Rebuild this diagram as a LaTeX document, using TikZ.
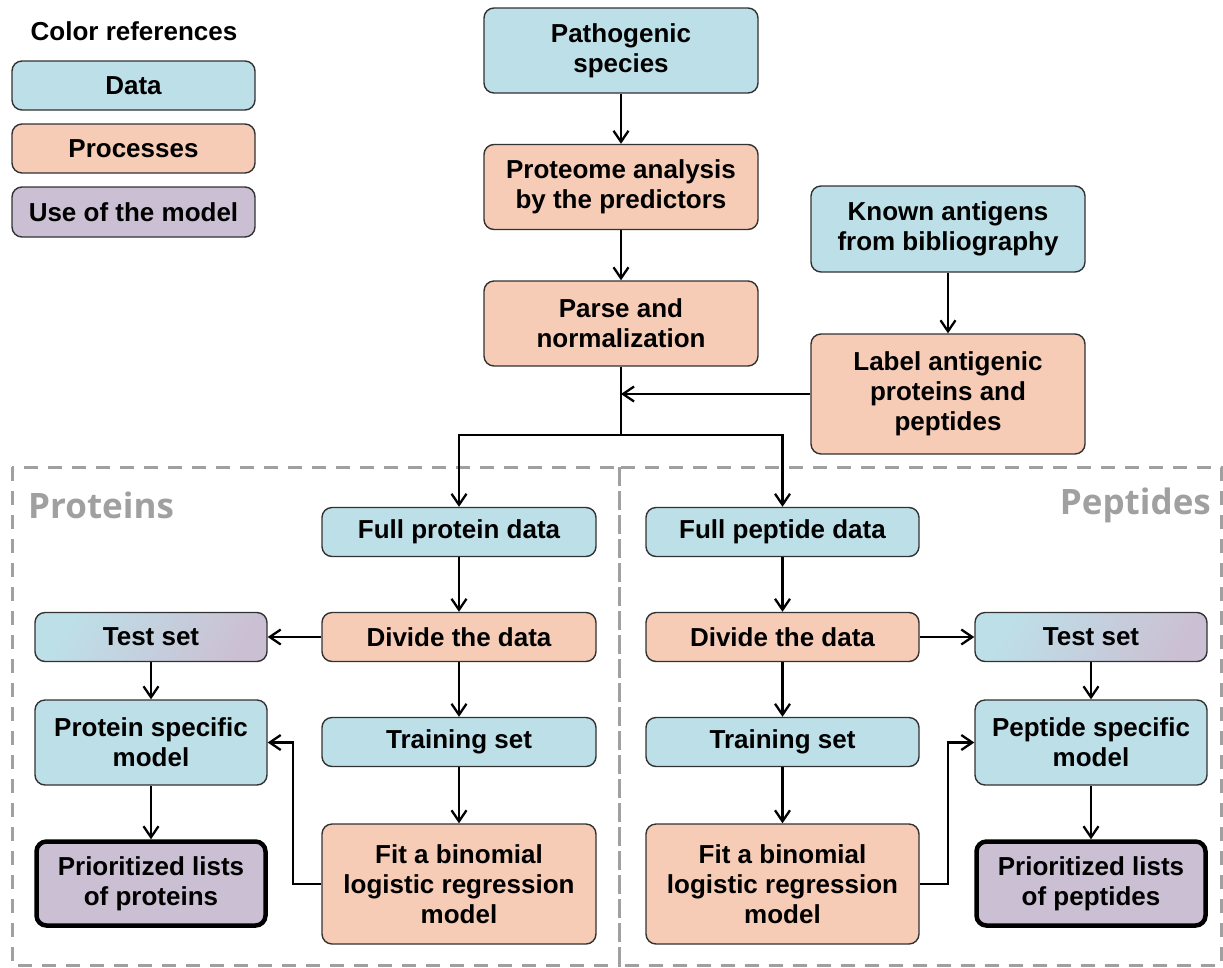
\documentclass[tikz,border=0pt]{standalone}
\usepackage{fontspec}
\setmainfont{Liberation Sans}
\newfontfamily\panelfont{Open Sans}
\usepackage{xcolor}
\usepackage{tikz}
\usetikzlibrary{arrows.meta, positioning, calc}

\definecolor{datafill}{RGB}{189,224,232}
\definecolor{procfill}{RGB}{246,204,183}
\definecolor{usefill}{RGB}{203,192,211}
\definecolor{edgegray}{RGB}{50,50,50}
\definecolor{panelgray}{RGB}{160,160,160}

\begin{document}
\begin{tikzpicture}[
    x=1pt, y=-1pt,
    box/.style={draw=edgegray, line width=1.4pt, rounded corners=10pt, align=center,
        inner sep=0pt, font=\bfseries\fontsize{26}{30}\selectfont, text=black},
    databox/.style={box, fill=datafill},
    procbox/.style={box, fill=procfill},
    usebox/.style={box, fill=usefill, draw=black, line width=4.5pt},
    testbox/.style={box, shading=axis, left color=datafill, right color=usefill, shading angle=60},
    arr/.style={-{Straight Barb[length=11pt, width=15pt]}, line width=2.3pt},
    conn/.style={line width=2.3pt},
    panel/.style={draw=panelgray, line width=3pt, dash pattern=on 14pt off 10pt},
    paneltitle/.style={text=panelgray, font=\panelfont\bfseries\fontsize{35}{42}\selectfont, inner sep=0pt}
]
\useasboundingbox (0,0) rectangle (1223,967);

% Colour legend
\node[font=\bfseries\fontsize{26}{30}\selectfont] (legend) at (134,31) {Color references};
\node[databox, minimum width=243, minimum height=49] (legdata) at (133.5,85.5) {Data};
\node[procbox, minimum width=243, minimum height=49] (legproc) at (133.5,148.5) {Processes};
\node[box, fill=usefill, minimum width=243, minimum height=50] (leguse) at (133.5,212) {Use of the model};

% Panels
\draw[panel] (12,467) rectangle (619,965);
\draw[panel] (619,467) rectangle (1221,965);
\node[paneltitle, anchor=west] (protlabel) at (28,505) {Proteins};
\node[paneltitle, anchor=east] (peplabel) at (1211,505) {Peptides};

% Common steps
\node[databox, minimum width=274, minimum height=85] (species) at (621,50.5) {Pathogenic\\species};
\node[procbox, minimum width=274, minimum height=85] (proteome) at (621,187) {Proteome analysis\\by the predictors};
\node[procbox, minimum width=274, minimum height=85] (parse) at (621,323.5) {Parse and\\normalization};
\node[databox, minimum width=274, minimum height=86] (known) at (948,229) {Known antigens\\from bibliography};
\node[procbox, minimum width=274, minimum height=120] (labeling) at (948,394) {Label antigenic\\proteins and\\peptides};
\coordinate (join) at (621,394);
\coordinate (split) at (621,435);

\draw[arr] (species) -- (proteome);
\draw[arr] (proteome) -- (parse);
\draw[arr] (known) -- (labeling);
\draw[arr] (labeling) -- (join);
\draw[conn] (parse) -- (split);

% Proteins
\node[databox, minimum width=274, minimum height=49] (fullprot) at (459,532) {Full protein data};
\node[procbox, minimum width=274, minimum height=49] (divprot) at (459,637) {Divide the data};
\node[databox, minimum width=274, minimum height=49] (trainprot) at (459,742) {Training set};
\node[procbox, minimum width=274, minimum height=120] (fitprot) at (459,884) {Fit a binomial\\logistic regression\\model};
\node[testbox, minimum width=232, minimum height=49] (testprot) at (151,637) {Test set};
\node[databox, minimum width=232, minimum height=85] (modelprot) at (151,742.5) {Protein specific\\model};
\node[usebox, minimum width=229, minimum height=84] (listprot) at (151,883.5) {Prioritized lists\\of proteins};

% Peptides
\node[databox, minimum width=273, minimum height=49] (fullpep) at (782.5,532) {Full peptide data};
\node[procbox, minimum width=273, minimum height=49] (divpep) at (782.5,637) {Divide the data};
\node[databox, minimum width=273, minimum height=49] (trainpep) at (782.5,742) {Training set};
\node[procbox, minimum width=273, minimum height=120] (fitpep) at (782.5,884) {Fit a binomial\\logistic regression\\model};
\node[testbox, minimum width=232, minimum height=49] (testpep) at (1091,637) {Test set};
\node[databox, minimum width=232, minimum height=85] (modelpep) at (1091,742.5) {Peptide specific\\model};
\node[usebox, minimum width=229, minimum height=84] (listpep) at (1091,883.5) {Prioritized lists\\of peptides};

\draw[arr] (split) -| (fullprot);
\draw[arr] (split) -| (fullpep);

\draw[arr] (fullprot) -- (divprot);
\draw[arr] (divprot) -- (testprot);
\draw[arr] (divprot) -- (trainprot);
\draw[arr] (trainprot) -- (fitprot);
\draw[arr] (testprot) -- (modelprot);
\draw[arr] (modelprot) -- (listprot);
\draw[arr] (fitprot.west) -- ++(-28,0) |- (modelprot.east);

\draw[arr] (fullpep) -- (divpep);
\draw[arr] (divpep) -- (testpep);
\draw[arr] (divpep) -- (trainpep);
\draw[arr] (trainpep) -- (fitpep);
\draw[arr] (testpep) -- (modelpep);
\draw[arr] (modelpep) -- (listpep);
\draw[arr] (fitpep.east) -- ++(28,0) |- (modelpep.west);

\end{tikzpicture}
\end{document}
